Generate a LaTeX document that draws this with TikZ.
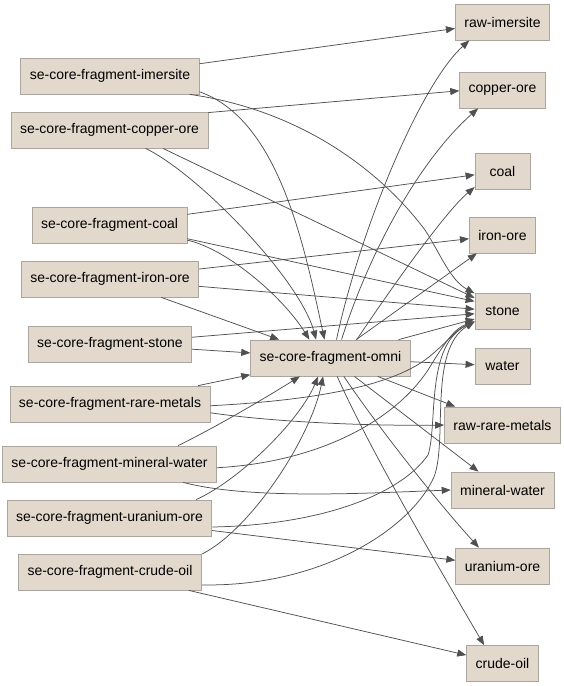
\documentclass[tikz,border=0pt]{standalone}
\usepackage{fontspec}
\setmainfont{Liberation Sans}
\usetikzlibrary{arrows.meta}
\definecolor{nodefill}{HTML}{E3D8CC}
\definecolor{nodeline}{HTML}{ABA59F}
\definecolor{edgecol}{HTML}{505050}
\begin{document}
\begin{tikzpicture}[x=1pt,y=-1pt,
  n/.style={draw=nodeline, fill=nodefill, line width=0.8pt, minimum height=36pt, minimum width=55pt,
    inner xsep=9pt, inner ysep=0pt, font=\fontsize{14pt}{16pt}\selectfont, text=black},
  e/.style={draw=edgecol, line width=0.75pt, -{Triangle[length=9pt,width=7pt]}}]
\useasboundingbox (0,0) rectangle (564,686);
% left column
\node[n] (imL) at (110,76) {se-core-fragment-imersite};
\node[n] (cuL) at (109.5,130) {se-core-fragment-copper-ore};
\node[n] (coL) at (109.5,225) {se-core-fragment-coal};
\node[n] (feL) at (110,279) {se-core-fragment-iron-ore};
\node[n] (stL) at (110,344) {se-core-fragment-stone};
\node[n] (rmL) at (110,404) {se-core-fragment-rare-metals};
\node[n] (mwL) at (109.5,464) {se-core-fragment-mineral-water};
\node[n] (urL) at (109.5,518) {se-core-fragment-uranium-ore};
\node[n] (crL) at (110,572) {se-core-fragment-crude-oil};
% middle
\node[n] (omni) at (330.5,358) {se-core-fragment-omni};
% right column
\node[n] (riR) at (502.5,22) {raw-imersite};
\node[n] (cuR) at (502.5,90) {copper-ore};
\node[n] (coR) at (502.5,171) {coal};
\node[n] (feR) at (502.5,235) {iron-ore};
\node[n] (stR) at (502.5,311.5) {stone};
\node[n] (waR) at (502.5,366) {water};
\node[n] (rmR) at (502.5,425) {raw-rare-metals};
\node[n] (mwR) at (502.5,490) {mineral-water};
\node[n] (urR) at (502.5,566) {uranium-ore};
\node[n] (crR) at (502.5,663.5) {crude-oil};

% direct fragment -> product
\draw[e] (imL) -- (riR);
\draw[e] (cuL.10) -- (cuR.181);
\draw[e] (coL) -- (coR);
\draw[e] (feL) -- (feR);
\draw[e] (stL) -- (stR);
\draw[e] (rmL.-5) .. controls (280,423) and (380,426) .. (rmR.180);
\draw[e] (mwL.-14) .. controls (250,500) and (370,493) .. (mwR.180);
\draw[e] (urL) -- (urR);
\draw[e] (crL) -- (crR);

% fragment -> stone
\draw[e] (imL.-13) .. controls (300,110) and (380,170) .. (425,230)
  .. controls (440,253) and (450,280) .. (stR.147);
\draw[e] (cuL.-19) -- (stR.154);
\draw[e] (coL.-10) -- (stR.160);
\draw[e] (feL) -- (stR);
\draw[e] (rmL.-1) .. controls (320,400) and (390,385) .. (425,360)
  .. controls (445,345) and (455,330) .. (stR.200);
\draw[e] (mwL.-2) .. controls (320,462) and (395,420) .. (428,370)
  .. controls (445,342) and (455,328) .. (stR.200);
\draw[e] (urL.-5) .. controls (320,525) and (400,495) .. (428,455)
  .. controls (438,425) and (425,345) .. (stR.200);
\draw[e] (crL.-8) .. controls (320,587) and (410,530) .. (434,477)
  .. controls (448,440) and (428,350) .. (stR.200);

% fragment -> omni
\draw[e] (imL.-10) .. controls (280,120) and (305,250) .. (omni.108);
\draw[e] (cuL.-27) .. controls (200,175) and (300,280) .. (omni.128);
\draw[e] (coL.-11) .. controls (230,250) and (285,300) .. (omni.139);
\draw[e] (feL) -- (omni);
\draw[e] (stL) -- (omni);
\draw[e] (rmL) -- (omni);
\draw[e] (mwL.15) .. controls (220,425) and (270,395) .. (omni.211);
\draw[e] (urL.12) .. controls (240,480) and (300,420) .. (omni.236);
\draw[e] (crL.11) .. controls (250,530) and (310,440) .. (omni.248);

% omni -> products
\draw[e] (omni.72) .. controls (360,230) and (420,85) .. (riR.209);
\draw[e] (omni.59) .. controls (370,250) and (420,160) .. (cuR.217);
\draw[e] (omni.35) .. controls (390,290) and (445,212) .. (coR.210);
\draw[e] (omni) -- (feR);
\draw[e] (omni) -- (stR);
\draw[e] (omni) -- (waR);
\draw[e] (omni) -- (rmR);
\draw[e] (omni) -- (mwR);
\draw[e] (omni.-54) .. controls (380,430) and (440,505) .. (urR.142);
\draw[e] (omni.-70) .. controls (370,450) and (440,570) .. (crR.135);
\end{tikzpicture}
\end{document}
